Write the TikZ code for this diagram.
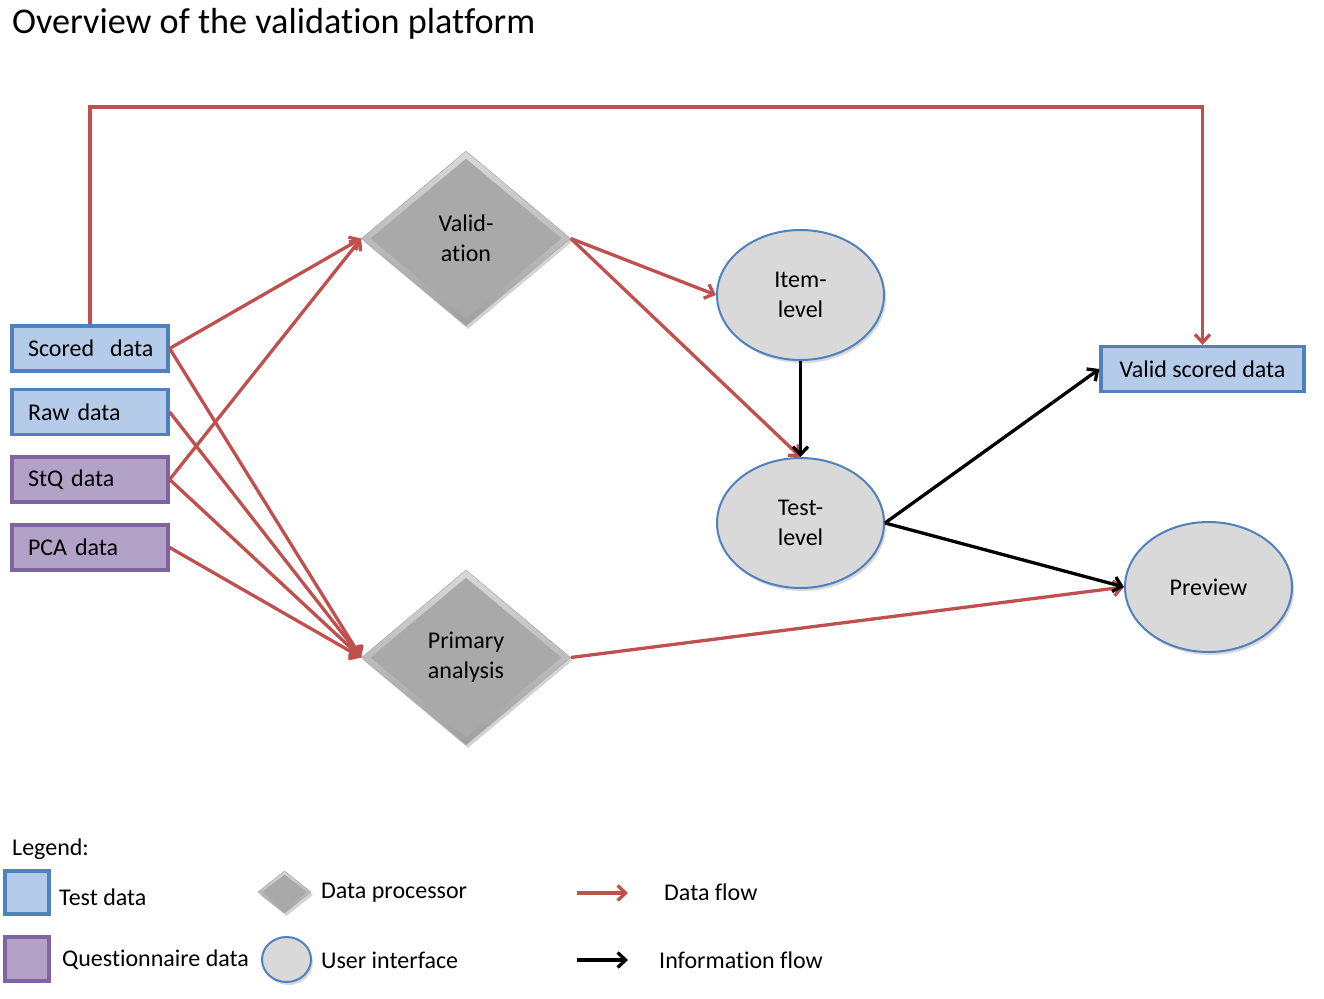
\documentclass[tikz,border=0pt]{standalone}
\usepackage{fontspec}
\setmainfont{Carlito}[Ligatures=NoCommon]
\usetikzlibrary{shapes.geometric,arrows.meta,shadows}
\definecolor{bfill}{HTML}{B4CBEA}
\definecolor{bline}{HTML}{4F81BD}
\definecolor{pfill}{HTML}{B3A2C7}
\definecolor{pline}{HTML}{8064A2}
\definecolor{dred}{HTML}{C0504D}
\definecolor{dgray}{HTML}{A9A9A9}
\definecolor{egray}{HTML}{D9D9D9}
\begin{document}
\begin{tikzpicture}[x=1pt,y=-1pt,
  every node/.style={font=\fontsize{24}{30}\selectfont},
  tbox/.style={rectangle,draw=bline,fill=bfill,line width=3.3pt,minimum height=45pt,inner sep=0pt},
  qbox/.style={rectangle,draw=pline,fill=pfill,line width=3.3pt,minimum height=45pt,inner sep=0pt},
  leftbox/.style={minimum width=156pt,text width=124pt,align=left},
  proc/.style={diamond,top color=gray!30,bottom color=gray!75,draw=gray!65,line width=0.6pt,minimum width=209pt,minimum height=175pt,inner sep=0pt,align=center,
    drop shadow={shadow xshift=2pt,shadow yshift=-3pt,opacity=0.35},
    path picture={\fill[dgray] ([yshift=-#1*0.85pt]path picture bounding box.north) -- ([xshift=-#1pt]path picture bounding box.east) -- ([yshift=#1*0.85pt]path picture bounding box.south) -- ([xshift=#1pt]path picture bounding box.west) -- cycle;}},
  proc/.default=9,
  ui/.style={ellipse,fill=egray,draw=bline,line width=2pt,minimum width=167pt,minimum height=130pt,inner sep=0pt,align=center,
    drop shadow={shadow xshift=2pt,shadow yshift=-3pt,opacity=0.3}},
  dflow/.style={draw=dred,line width=3.3pt,-{Straight Barb[length=8pt,width=15pt]}},
  iflow/.style={draw=black,line width=3.3pt,-{Straight Barb[length=8pt,width=15pt]}},
  lbl/.style={anchor=west,inner sep=0pt}
]
\useasboundingbox (0,0) rectangle (1324,998);
\node[lbl,font=\fontsize{36.2}{40}\selectfont] (title) at (12,24) {Overview of the validation platform};

% data boxes
\node[tbox,leftbox] (sd) at (90,348.5) {\mbox{Scored\ \ data}};
\node[tbox,leftbox] (rd) at (90,412) {Raw data};
\node[qbox,leftbox] (sq) at (90,479.5) {StQ data};
\node[qbox,leftbox] (pc) at (90,547.5) {PCA data};
\node[tbox,minimum width=203pt] (vsd) at (1202.5,369) {Valid scored data};

% processors
\node[proc] (val) at (466,238.5) {Valid-\\ation};
\node[proc] (pa) at (466,657.5) {Primary\\analysis};

% user interfaces
\node[ui] (il) at (800.5,295) {Item-\\level};
\node[ui] (tl) at (800.5,523) {Test-\\level};
\node[ui] (pv) at (1208.5,587) {Preview};

% data flow
\coordinate (topc) at (640,107);
\draw[dflow] (sd.north) |- (topc) -| (vsd.north);
\draw[dflow] (sd.east) -- (val.west);
\draw[dflow] (sd.east) -- (pa.west);
\draw[dflow] (rd.east) -- (pa.west);
\draw[dflow] (sq.east) -- (val.west);
\draw[dflow] (sq.east) -- (pa.west);
\draw[dflow] (pc.east) -- (pa.west);
\draw[dflow] (val.east) -- (il.west);
\draw[dflow] (val.east) -- (tl.north);
\draw[dflow] (pa.east) -- (pv.west);

% information flow
\draw[iflow] (il.south) -- (tl.north);
\draw[iflow] (tl.east) -- (vsd.west);
\draw[iflow] (tl.east) -- (pv.west);

% legend
\node[lbl] (leg) at (12,849) {Legend:};
\node[tbox,minimum width=44pt,minimum height=43pt] (l1) at (27,892.5) {};
\node[lbl] (l1t) at (59,897) {Test data};
\node[qbox,minimum width=44pt,minimum height=44pt] (l2) at (27,959) {};
\node[lbl] (l2t) at (62,960) {Questionnaire data};
\node[proc=4,minimum width=53pt,minimum height=42pt] (l3) at (284.5,892) {};
\node[lbl] (l3t) at (321,893) {Data processor};
\node[ui,minimum width=49pt,minimum height=45pt] (l4) at (286.5,959.5) {};
\node[lbl] (l4t) at (321,960) {User interface};
\coordinate (a1s) at (577,893);
\coordinate (a1e) at (628,893);
\draw[dflow] (a1s) -- (a1e);
\node[lbl] (l5t) at (664,892) {Data flow};
\coordinate (a2s) at (577,960);
\coordinate (a2e) at (628,960);
\draw[iflow] (a2s) -- (a2e);
\node[lbl] (l6t) at (659,960) {Information flow};
\end{tikzpicture}
\end{document}
